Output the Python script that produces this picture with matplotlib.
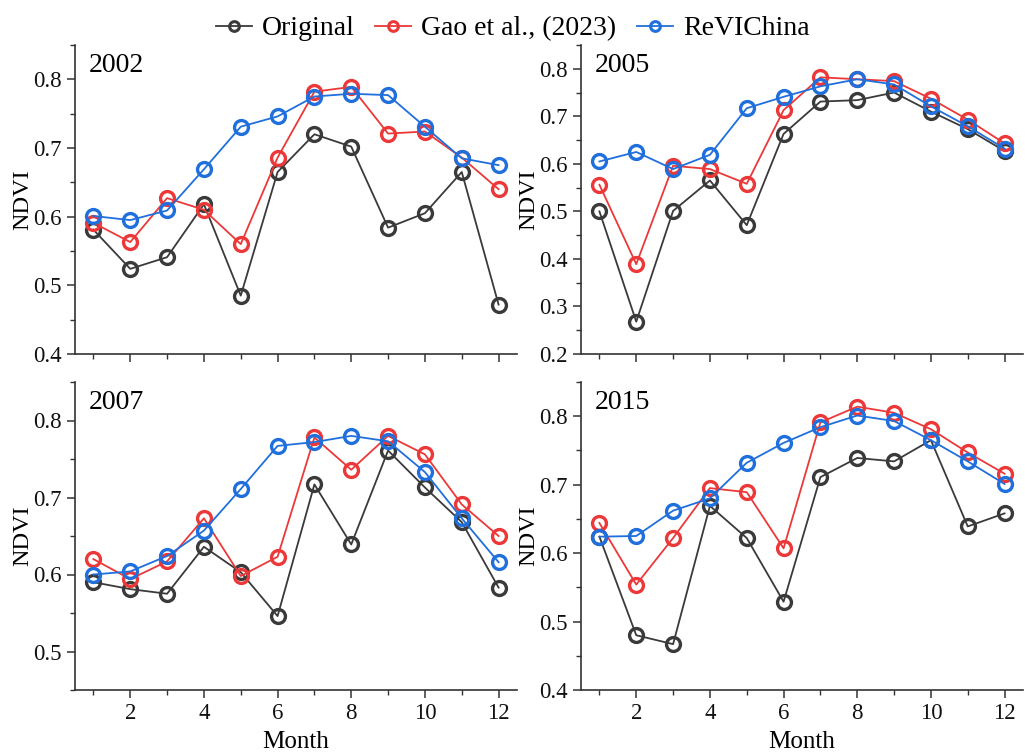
import matplotlib
matplotlib.use("Agg")
import matplotlib.pyplot as plt
from matplotlib.ticker import MultipleLocator, FormatStrFormatter
from matplotlib.lines import Line2D

plt.rcParams['font.family'] = ['Liberation Serif', 'DejaVu Serif']

months = list(range(1, 13))
series_names = ["Original", "Gao et al., (2023)", "ReVIChina"]
years = ["2002", "2005", "2007", "2015"]

original_2002 = [0.581, 0.524, 0.541, 0.618, 0.485, 0.665, 0.720, 0.702, 0.584, 0.605, 0.665, 0.472]
gao_2002 = [0.591, 0.563, 0.627, 0.610, 0.560, 0.686, 0.782, 0.789, 0.721, 0.724, 0.686, 0.640]
revi_2002 = [0.601, 0.595, 0.609, 0.669, 0.731, 0.746, 0.775, 0.779, 0.777, 0.731, 0.685, 0.675]

original_2005 = [0.500, 0.268, 0.501, 0.565, 0.471, 0.663, 0.731, 0.734, 0.750, 0.710, 0.673, 0.627]
gao_2005 = [0.556, 0.389, 0.596, 0.589, 0.558, 0.713, 0.782, 0.778, 0.774, 0.737, 0.693, 0.643]
revi_2005 = [0.605, 0.625, 0.589, 0.619, 0.717, 0.741, 0.763, 0.778, 0.767, 0.721, 0.679, 0.632]

original_2007 = [0.590, 0.581, 0.575, 0.636, 0.603, 0.546, 0.717, 0.639, 0.761, 0.713, 0.668, 0.583]
gao_2007 = [0.620, 0.594, 0.617, 0.673, 0.598, 0.623, 0.778, 0.736, 0.780, 0.756, 0.691, 0.650]
revi_2007 = [0.600, 0.604, 0.624, 0.657, 0.711, 0.767, 0.772, 0.780, 0.773, 0.733, 0.673, 0.616]

original_2015 = [0.624, 0.480, 0.467, 0.669, 0.622, 0.529, 0.711, 0.739, 0.734, 0.765, 0.639, 0.658]
gao_2015 = [0.644, 0.554, 0.622, 0.695, 0.689, 0.607, 0.791, 0.814, 0.805, 0.781, 0.747, 0.716]
revi_2015 = [0.624, 0.625, 0.662, 0.680, 0.732, 0.761, 0.784, 0.801, 0.793, 0.765, 0.734, 0.701]

data = {
    "2002": [original_2002, gao_2002, revi_2002],
    "2005": [original_2005, gao_2005, revi_2005],
    "2007": [original_2007, gao_2007, revi_2007],
    "2015": [original_2015, gao_2015, revi_2015],
}
ylims = {"2002": (0.4, 0.85), "2005": (0.2, 0.85), "2007": (0.45, 0.85), "2015": (0.4, 0.85)}

colors = ["#3a3a3a", "#ec3838", "#1f6fdc"]

W, H = 1025, 755
fig = plt.figure(figsize=(W / 100, H / 100), dpi=100)

def rect(l, r, t, b):
    return [l / W, 1 - b / H, (r - l) / W, (b - t) / H]

positions = {
    "2002": rect(75, 517, 45, 354),
    "2005": rect(581, 1023, 45, 354),
    "2007": rect(75, 517, 382, 690),
    "2015": rect(581, 1023, 382, 690),
}

for yr in years:
    ax = fig.add_axes(positions[yr])
    for vals, c in zip(data[yr], colors):
        ax.plot(months, vals, color=c, lw=1.3, marker='o', ms=10,
                mfc='none', mec=c, mew=2.4)
    ax.set_xlim(0.5, 12.5)
    ax.set_ylim(*ylims[yr])
    ax.xaxis.set_major_locator(MultipleLocator(2))
    ax.xaxis.set_minor_locator(MultipleLocator(1))
    ax.yaxis.set_major_locator(MultipleLocator(0.1))
    ax.yaxis.set_minor_locator(MultipleLocator(0.05))
    ax.yaxis.set_major_formatter(FormatStrFormatter('%.1f'))
    for s in ['top', 'right']:
        ax.spines[s].set_visible(False)
    for s in ['left', 'bottom']:
        ax.spines[s].set_linewidth(1.2)
        ax.spines[s].set_color('#333333')
    ax.tick_params(which='major', direction='out', length=6, width=1.1,
                   labelsize=16.5, colors='#333333', labelcolor='#111111')
    ax.tick_params(which='minor', direction='out', length=3.5, width=1.0, colors='#333333')
    ax.set_ylabel("NDVI", fontsize=17.5, labelpad=0)
    if yr in ("2002", "2005"):
        ax.tick_params(axis='x', labelbottom=False)
    else:
        ax.set_xlabel("Month", fontsize=18, labelpad=5)
    ax.text(0.03, 0.975, yr, transform=ax.transAxes, fontsize=20,
            ha='left', va='top')

handles = [Line2D([0], [0], color=c, lw=1.3, marker='o', ms=7, mfc='none',
                  mec=c, mew=2.2) for c in colors]
fig.legend(handles, series_names, loc='upper center', bbox_to_anchor=(0.5, 1.012),
           ncol=3, frameon=False, fontsize=20, handlelength=1.3,
           handletextpad=0.35, columnspacing=0.75)

fig.savefig("out.png", dpi=100, facecolor='white')
